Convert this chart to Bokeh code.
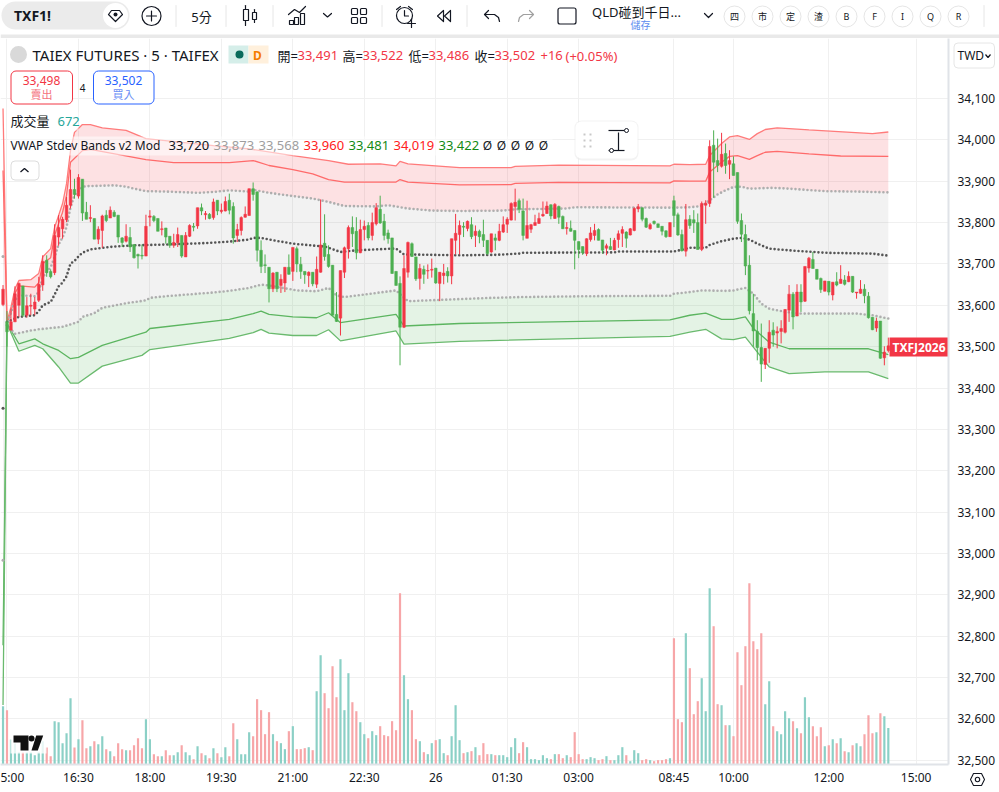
import numpy as np
from bokeh.core.properties import value
from bokeh.embed import file_html
from bokeh.layouts import column
from bokeh.models import BoxAnnotation, FixedTicker, Label, NumeralTickFormatter, Range1d
from bokeh.plotting import figure
from bokeh.resources import INLINE

FONT = '"Noto Sans", "Noto Sans CJK TC"'

RED = "#F23645"
GREEN = "#4CAF50"
TEAL = "#089981"
BLUE = "#2962FF"
INK = "#131722"
GRID = "#F0F0F0"
EDGE = "#E0E3E8"

# 5 minute candles, first one is the last bar of the previous session
opens = [
    33602, 33560, 33540, 33560, 33600, 33647, 33576, 33598, 33591, 33612,
    33649, 33709, 33682, 33679, 33765, 33785, 33807, 33842, 33880, 33864,
    33905, 33825, 33810, 33810, 33760, 33781, 33818, 33811, 33825, 33818,
    33763, 33755, 33764, 33747, 33723, 33721, 33719, 33813, 33815, 33810,
    33783, 33787, 33767, 33745, 33751, 33769, 33717, 33767, 33791, 33792,
    33836, 33819, 33820, 33812, 33854, 33827, 33828, 33854,
    33839, 33769, 33781, 33813, 33817, 33882, 33874, 33733, 33698, 33692,
    33640, 33680, 33648, 33654, 33692, 33682, 33737, 33699, 33682, 33672,
    33680, 33651, 33680, 33750, 33723, 33697, 33578, 33569, 33680, 33737,
    33788, 33779, 33727, 33783, 33793, 33769, 33797, 33832, 33803, 33775,
    33763, 33682, 33653, 33547, 33680, 33749, 33717, 33665, 33687, 33683,
    33685, 33690, 33653, 33672, 33682, 33671, 33757, 33771,
    33791, 33786, 33795, 33769, 33779, 33771, 33757, 33729, 33763, 33757,
    33777, 33796, 33806, 33839, 33853, 33828, 33762, 33784, 33793, 33798,
    33816, 33822, 33843, 33810, 33839, 33815, 33786, 33786, 33781, 33754,
    33742, 33725, 33759, 33769, 33783, 33758, 33738, 33742, 33734, 33759,
    33774, 33777, 33770, 33781, 33833, 33836, 33810, 33785, 33803, 33797,
    33791, 33780, 33766, 33853, 33819, 33771, 33731,
    33808, 33807, 33800, 33735, 33842, 33846, 33987, 33950, 33936, 33967,
    33941, 33942, 33921, 33805, 33771, 33697, 33580, 33537, 33498, 33457,
    33496, 33540, 33533, 33537, 33535, 33588, 33627, 33574, 33632, 33610,
    33690, 33711, 33687, 33665, 33634, 33658, 33625, 33657, 33653, 33661,
    33657, 33670, 33630, 33629, 33639, 33622, 33571, 33545, 33562, 33473, 33491,
]
highs = [
    33649, 33586, 33592, 33646, 33655, 33647, 33620, 33628, 33620, 33669,
    33721, 33721, 33687, 33796, 33818, 33814, 33862, 33928, 33906, 33917,
    33905, 33850, 33842, 33810, 33791, 33819, 33830, 33839, 33830, 33818,
    33765, 33796, 33789, 33747, 33725, 33747, 33819, 33830, 33818, 33810,
    33803, 33787, 33767, 33773, 33788, 33769, 33777, 33796, 33799, 33836,
    33846, 33828, 33823, 33858, 33854, 33846, 33863, 33870,
    33849, 33797, 33815, 33839, 33882, 33897, 33876, 33757, 33723, 33692,
    33680, 33680, 33675, 33692, 33723, 33740, 33742, 33717, 33682, 33682,
    33680, 33718, 33856, 33820, 33745, 33697, 33632, 33684, 33742, 33793,
    33815, 33813, 33807, 33805, 33801, 33824, 33847, 33865, 33821, 33783,
    33763, 33682, 33670, 33721, 33754, 33752, 33717, 33700, 33696, 33699,
    33713, 33690, 33680, 33700, 33692, 33761, 33821, 33805,
    33801, 33805, 33813, 33793, 33783, 33807, 33757, 33773, 33773, 33797,
    33815, 33813, 33849, 33882, 33858, 33858, 33853, 33797, 33819, 33824,
    33851, 33851, 33844, 33847, 33841, 33817, 33801, 33805, 33781, 33754,
    33742, 33762, 33789, 33797, 33786, 33758, 33749, 33763, 33763, 33781,
    33791, 33779, 33787, 33837, 33845, 33836, 33812, 33799, 33805, 33797,
    33791, 33781, 33800, 33865, 33824, 33783, 33845,
    33818, 33830, 33822, 33851, 33854, 33999, 34023, 34003, 34017, 33991,
    33975, 33960, 33921, 33822, 33795, 33721, 33628, 33564, 33556, 33496,
    33564, 33559, 33549, 33564, 33591, 33649, 33632, 33651, 33651, 33694,
    33717, 33729, 33687, 33667, 33659, 33658, 33656, 33680, 33697, 33673,
    33682, 33670, 33632, 33661, 33651, 33632, 33571, 33570, 33562, 33501, 33522,
]
lows = [
    33598, 33500, 33540, 33560, 33572, 33572, 33570, 33576, 33576, 33608,
    33635, 33669, 33665, 33673, 33744, 33761, 33801, 33834, 33858, 33858,
    33804, 33808, 33801, 33760, 33748, 33739, 33801, 33811, 33813, 33751,
    33741, 33752, 33729, 33713, 33689, 33711, 33719, 33791, 33801, 33779,
    33769, 33749, 33739, 33739, 33741, 33715, 33717, 33765, 33779, 33785,
    33818, 33807, 33808, 33807, 33818, 33822, 33827, 33820,
    33749, 33753, 33769, 33812, 33817, 33853, 33706, 33678, 33678, 33607,
    33632, 33632, 33630, 33632, 33674, 33659, 33680, 33664, 33652, 33644,
    33646, 33642, 33679, 33708, 33691, 33576, 33560, 33527, 33666, 33713,
    33741, 33711, 33726, 33757, 33757, 33757, 33793, 33797, 33757, 33749,
    33676, 33648, 33455, 33545, 33667, 33717, 33659, 33638, 33652, 33664,
    33667, 33652, 33610, 33651, 33655, 33651, 33723, 33723,
    33765, 33779, 33760, 33741, 33750, 33741, 33722, 33727, 33733, 33755,
    33775, 33775, 33805, 33805, 33823, 33757, 33762, 33775, 33793, 33797,
    33814, 33821, 33808, 33809, 33797, 33785, 33771, 33778, 33687, 33714,
    33722, 33719, 33754, 33757, 33757, 33725, 33721, 33734, 33733, 33739,
    33741, 33739, 33769, 33779, 33825, 33803, 33787, 33783, 33795, 33788,
    33769, 33763, 33766, 33789, 33768, 33730, 33718,
    33785, 33775, 33735, 33731, 33797, 33838, 33860, 33922, 33933, 33918,
    33905, 33914, 33797, 33753, 33673, 33578, 33500, 33467, 33415, 33446,
    33461, 33500, 33496, 33508, 33532, 33560, 33542, 33574, 33584, 33608,
    33679, 33689, 33663, 33630, 33634, 33624, 33612, 33646, 33653, 33648,
    33656, 33630, 33616, 33628, 33605, 33568, 33540, 33536, 33471, 33455, 33486,
]
closes = [
    33639, 33536, 33560, 33628, 33653, 33576, 33599, 33600, 33608, 33651,
    33706, 33679, 33669, 33769, 33788, 33808, 33842, 33880, 33868, 33909,
    33823, 33808, 33812, 33760, 33784, 33816, 33805, 33830, 33815, 33765,
    33752, 33767, 33741, 33715, 33719, 33719, 33791, 33816, 33805, 33779,
    33785, 33765, 33745, 33752, 33771, 33719, 33769, 33793, 33789, 33836,
    33828, 33822, 33810, 33850, 33828, 33830, 33851, 33830,
    33763, 33783, 33812, 33820, 33882, 33868, 33733, 33694, 33696, 33640,
    33678, 33640, 33663, 33692, 33675, 33740, 33700, 33682, 33674, 33680,
    33652, 33687, 33746, 33718, 33694, 33576, 33561, 33684, 33739, 33788,
    33773, 33727, 33783, 33791, 33763, 33800, 33836, 33799, 33769, 33761,
    33677, 33648, 33547, 33689, 33752, 33718, 33664, 33689, 33675, 33684,
    33687, 33654, 33680, 33678, 33671, 33761, 33774, 33793,
    33789, 33803, 33766, 33779, 33766, 33757, 33725, 33773, 33757, 33779,
    33795, 33808, 33846, 33849, 33832, 33769, 33793, 33795, 33800, 33810,
    33820, 33840, 33816, 33844, 33813, 33785, 33788, 33779, 33757, 33735,
    33727, 33761, 33775, 33781, 33757, 33733, 33744, 33735, 33757, 33773,
    33783, 33762, 33785, 33834, 33838, 33808, 33789, 33795, 33798, 33788,
    33779, 33766, 33800, 33817, 33770, 33732, 33807,
    33793, 33799, 33735, 33846, 33847, 33984, 33946, 33938, 33965, 33938,
    33950, 33914, 33803, 33772, 33695, 33587, 33538, 33498, 33458, 33496,
    33535, 33528, 33537, 33544, 33590, 33627, 33572, 33632, 33608, 33694,
    33714, 33689, 33663, 33638, 33659, 33632, 33656, 33649, 33663, 33651,
    33670, 33632, 33632, 33639, 33623, 33570, 33541, 33562, 33472, 33487, 33502,
]
volumes = [
    1071, 998, 459, 386, 226, 226, 226, 226, 171, 226, 428, 312, 153, 796, 777, 392,
    575, 1218, 312, 465, 814, 300, 337, 428, 373, 520, 282, 245, 153, 392, 282, 263,
    263, 355, 483, 300, 832, 465, 190, 153, 153, 263, 171, 171, 226, 355, 226, 171,
    98, 337, 208, 171, 116, 300, 208, 135, 318, 153, 759, 465, 190, 190, 594, 520,
    1200, 998, 557, 961, 557, 428, 392, 282, 612, 704, 282, 282, 300, 318, 263, 1346,
    2007, 1310, 1034, 1805, 1236, 1934, 998, 1677, 1144, 979, 777, 557, 483, 612, 539, 704,
    539, 520, 796, 630, 3146, 1640, 1200, 998, 465, 428, 226, 190, 392, 447, 465, 208,
    171, 520, 1089, 447, 208, 226, 245, 318, 171, 392, 190, 190, 171, 171, 171, 135,
    318, 483, 208, 410, 318, 98, 98, 80, 171, 116, 98, 190, 190, 116, 171, 135,
    594, 190, 98, 98, 135, 116, 80, 98, 153, 80, 80, 171, 318, 171, 61, 263,
    208, 80, 98, 80, 61, 80, 80, 98, 116, 2319, 832, 777, 2411, 1769, 924, 1163,
    1585, 979, 3237, 2540, 1108, 1089, 722, 722, 520, 2062, 1457, 2173, 3329, 2264, 2118, 2411,
    1108, 1530, 704, 612, 557, 979, 851, 796, 667, 575, 1236, 869, 704, 520, 685, 337,
    355, 465, 392, 483, 245, 226, 355, 392, 337, 557, 906, 575, 594, 942, 887, 672,
]

# VWAP bands, read at the bars where the lines bend
upper3_bars = [-1, 0, 1, 2, 3, 6, 8, 9, 11, 12, 13, 14, 15, 16, 17, 19, 21, 24, 30, 35, 52, 61, 72, 81, 86, 94, 98, 99, 101, 114, 127, 128, 139, 167, 168, 172, 176, 177, 180, 182, 184, 187, 189, 191, 194, 202, 218, 222]
upper3 = [34076, 33560, 33596, 33640, 33660, 33662, 33677, 33717, 33737, 33789, 33817, 33846, 33894, 33974, 34018, 34037, 34037, 34029, 34023, 34003, 33986, 33978, 33962, 33950, 33941, 33942, 33937, 33948, 33942, 33933, 33933, 33936, 33939, 33937, 33941, 33940, 33941, 33962, 33991, 34007, 34010, 34001, 34015, 34025, 34029, 34024, 34015, 34019]
upper2_bars = [-1, 0, 1, 2, 3, 7, 8, 9, 11, 12, 13, 14, 15, 16, 19, 21, 35, 42, 56, 62, 66, 72, 77, 81, 85, 98, 99, 101, 114, 127, 128, 139, 167, 168, 172, 176, 177, 180, 182, 184, 187, 189, 191, 194, 202, 210, 222]
upper2 = [33926, 33556, 33583, 33629, 33647, 33644, 33655, 33701, 33715, 33769, 33798, 33825, 33866, 33946, 33974, 33977, 33952, 33945, 33945, 33950, 33938, 33928, 33918, 33904, 33898, 33898, 33904, 33898, 33891, 33892, 33895, 33897, 33896, 33901, 33900, 33900, 33922, 33946, 33960, 33962, 33953, 33962, 33970, 33972, 33966, 33961, 33960]
upper1_bars = [-1, 0, 2, 3, 7, 8, 9, 11, 12, 13, 14, 15, 16, 17, 19, 20, 27, 30, 32, 35, 40, 48, 52, 56, 61, 62, 66, 72, 77, 81, 85, 93, 96, 101, 107, 114, 125, 128, 141, 143, 168, 172, 175, 177, 179, 181, 183, 185, 187, 193, 197, 206, 214, 222]
upper1 = [33718, 33552, 33612, 33624, 33622, 33632, 33668, 33692, 33717, 33747, 33764, 33789, 33837, 33866, 33886, 33888, 33890, 33887, 33882, 33876, 33875, 33872, 33874, 33878, 33875, 33879, 33872, 33864, 33858, 33850, 33840, 33839, 33842, 33834, 33829, 33828, 33829, 33832, 33834, 33837, 33836, 33837, 33840, 33854, 33868, 33878, 33886, 33887, 33882, 33884, 33882, 33876, 33875, 33873]
vwap_bars = [-1, 0, 3, 7, 8, 9, 11, 12, 13, 14, 15, 16, 17, 18, 19, 21, 24, 27, 32, 40, 49, 56, 61, 62, 64, 66, 72, 80, 81, 84, 88, 97, 98, 100, 114, 123, 129, 130, 153, 154, 168, 172, 176, 177, 180, 183, 185, 187, 189, 192, 197, 206, 218, 222]
vwap = [33351, 33560, 33572, 33576, 33586, 33600, 33608, 33626, 33646, 33655, 33670, 33701, 33707, 33718, 33727, 33735, 33739, 33742, 33745, 33747, 33750, 33754, 33759, 33763, 33763, 33759, 33749, 33742, 33739, 33729, 33733, 33737, 33737, 33723, 33721, 33722, 33725, 33727, 33728, 33730, 33730, 33739, 33739, 33746, 33755, 33761, 33763, 33759, 33749, 33737, 33733, 33727, 33725, 33720]
lower1_bars = [-1, 0, 2, 6, 8, 14, 18, 19, 22, 24, 30, 35, 36, 40, 48, 52, 56, 61, 64, 66, 73, 78, 81, 83, 85, 98, 101, 114, 122, 130, 146, 167, 168, 172, 175, 181, 183, 186, 188, 190, 192, 196, 200, 214, 218, 222]
lower1 = [32984, 33552, 33531, 33539, 33542, 33548, 33560, 33572, 33581, 33594, 33605, 33612, 33618, 33622, 33628, 33631, 33635, 33642, 33650, 33648, 33636, 33634, 33642, 33624, 33620, 33636, 33610, 33615, 33618, 33620, 33622, 33623, 33628, 33632, 33636, 33635, 33636, 33642, 33628, 33604, 33592, 33584, 33580, 33580, 33576, 33568]
lower2_bars = [-1, 0, 3, 7, 9, 13, 16, 18, 24, 35, 36, 56, 62, 64, 66, 72, 78, 81, 84, 98, 100, 114, 167, 172, 176, 180, 183, 186, 188, 192, 197, 206, 217, 222]
lower2 = [32778, 33556, 33507, 33519, 33507, 33491, 33471, 33474, 33503, 33535, 33544, 33566, 33580, 33586, 33578, 33572, 33570, 33582, 33558, 33578, 33550, 33556, 33565, 33576, 33581, 33566, 33566, 33572, 33544, 33511, 33495, 33495, 33495, 33481]
lower3_bars = [-1, 0, 3, 7, 9, 13, 16, 18, 24, 34, 36, 56, 62, 64, 66, 72, 78, 81, 84, 98, 100, 114, 167, 172, 176, 180, 183, 186, 188, 192, 197, 206, 217, 222]
lower3 = [32634, 33556, 33489, 33503, 33495, 33451, 33412, 33412, 33453, 33479, 33493, 33520, 33534, 33542, 33533, 33527, 33527, 33541, 33514, 33538, 33506, 33513, 33525, 33535, 33542, 33519, 33517, 33523, 33499, 33451, 33435, 33439, 33439, 33423]

price_ticks = list(range(32500, 34200, 100))
grid_ticks = [0, 18, 36, 54, 72, 90, 108, 126, 144, 168, 183, 207, 229]
# the session open label is cut by the left edge, so its tick sits a little to the right
time_ticks = [1.2, 18, 36, 54, 72, 90, 108, 126, 144, 168, 183, 207, 229]
time_labels = ["5:00", "16:30", "18:00", "19:30", "21:00", "22:30", "26", "01:30", "03:00", "08:45", "10:00", "12:00", "15:00"]

bars = np.arange(-1, len(opens) - 1)
rising = np.array(closes) >= np.array(opens)
candle_colors = [RED if r else GREEN for r in rising]
# volume pane keeps the default colours, so it is the other way round from the candles
volume_colors = ["#8BD0C6" if r else "#F7A6A8" for r in rising]

FRAME_BOTTOM = 764


def add_text(fig, x, y, text, color=INK, size=13, align="left", style="normal"):
    # x and y are page pixels
    fig.add_layout(Label(x=x, y=FRAME_BOTTOM - y, x_units="screen", y_units="screen", text=text,
                         text_color=color, text_font=FONT, text_font_size=f"{size}px",
                         text_font_style=style, text_align=align, text_baseline="middle"))


def add_box(fig, left, right, top, bottom, fill="white", fill_alpha=1.0, line=None, radius=0, width=1):
    fig.add_layout(BoxAnnotation(left=left, right=right, top=FRAME_BOTTOM - top, bottom=FRAME_BOTTOM - bottom,
                                 left_units="screen", right_units="screen", top_units="screen", bottom_units="screen",
                                 fill_color=fill, fill_alpha=fill_alpha, line_color=line, line_alpha=1.0, line_width=width,
                                 border_radius=radius, level="annotation"))


def small_figure(width, height, left=None, top=None):
    # x and y are the figure's own pixels, top-left origin
    styles = {} if left is None else {"position": "absolute", "left": f"{left}px", "top": f"{top}px"}
    f = figure(width=width, height=height, frame_width=width, frame_height=height, frame_align=False,
               x_range=Range1d(0, width), y_range=Range1d(height, 0),
               x_axis_location=None, y_axis_location=None, toolbar_location=None,
               output_backend="svg", min_border=0, outline_line_color=None, styles=styles)
    f.grid.visible = False
    return f


def build_toolbar():
    t = small_figure(999, 38)

    def stroke(xs, ys, color=INK, width=1.2):
        t.line(xs, ys, line_color=color, line_width=width, line_cap="round", line_join="round")

    def icon_text(x, y, text, color=INK, size=13, style="normal"):
        t.text([x], [y], text=[text], text_color=color, text_font=value(FONT), text_font_size=f"{size}px",
               text_font_style=style, text_align="center", text_baseline="middle")

    t.quad(left=[0], right=[999], top=[34], bottom=[38], fill_color="#E9E9E9", line_color=None)

    # symbol box
    t.quad(left=[1], right=[129], top=[1], bottom=[29], fill_color="#EBEBEB", line_color=None, border_radius=14)
    t.circle([115], [15], radius=12.5, fill_color="white", line_color=None)
    icon_text(32, 15, "TXF1!", size=14, style="bold")
    stroke([108, 111, 119, 122, 115, 108], [14, 10, 10, 14, 21, 14])
    t.circle([115], [14], radius=2, fill_color=INK, line_color=None)

    t.circle([151], [15.5], radius=9.5, fill_color=None, line_color=INK, line_width=1.2)
    stroke([146, 156], [15.5, 15.5])
    stroke([151, 151], [10.5, 20.5])

    for x in [175.5, 225.5, 272.5, 381.5, 466.5, 983.5]:
        stroke([x, x], [5, 26], color="#E6E6E6", width=1)

    icon_text(201, 16, "5分", size=13)

    # candle icon
    stroke([245, 245], [5, 25])
    t.quad(left=[243], right=[248], top=[9], bottom=[20], fill_color="white", line_color=INK, line_width=1.2)
    stroke([254, 254], [9, 22])
    t.quad(left=[252], right=[256], top=[12], bottom=[19], fill_color="white", line_color=INK, line_width=1.2)

    # indicators icon
    stroke([288, 294, 299, 305], [14, 9, 12, 6])
    for left, top in [(289, 20), (294, 17), (300, 13)]:
        t.quad(left=[left], right=[left + 4], top=[top], bottom=[24], fill_color="white", line_color=INK, line_width=1.2)
    stroke([323, 327, 331], [13, 16.5, 13])

    # layout icon
    for left, top in [(351, 8), (360, 8), (351, 17), (360, 17)]:
        t.quad(left=[left], right=[left + 6], top=[top], bottom=[top + 6], fill_color="white",
               line_color=INK, line_width=1.2, border_radius=1)

    # alarm
    t.circle([404], [15], radius=8, fill_color=None, line_color=INK, line_width=1.2)
    stroke([404, 404, 408], [10, 15.5, 15.5])
    stroke([396, 400], [9, 6])
    stroke([408, 412], [6, 9])
    stroke([407, 415], [23, 23])
    stroke([411, 411], [19, 27])

    # replay
    stroke([443, 437, 443, 443], [10, 15.5, 21, 10])
    stroke([450, 444, 450, 450], [10, 15.5, 21, 10])

    # undo, redo
    stroke([488, 484, 488], [10, 14, 18])
    stroke([484, 494, 498, 499], [14, 14, 17, 21])
    stroke([529, 533, 529], [10, 14, 18], color="#A0A0A0")
    stroke([533, 523, 519, 518], [14, 14, 17, 21], color="#A0A0A0")

    t.quad(left=[557.5], right=[575.5], top=[7.5], bottom=[23.5], fill_color="white", line_color=INK,
           line_width=1.2, border_radius=2)
    icon_text(636, 11, "QLD碰到千日...", size=13)
    icon_text(640, 24, "儲存", color="#5B8DEF", size=10)
    stroke([704, 708, 712], [13, 17, 13])

    for x, label in zip([734, 762, 790, 818, 846, 874, 902, 930, 958], ["四", "市", "定", "渣", "B", "F", "I", "Q", "R"]):
        t.circle([x], [16], radius=10.5, fill_color="white", line_color="#E6E6E6", line_width=1)
        icon_text(x, 16, label, size=9)
    return t


def build_currency():
    # currency button over the price scale
    c = small_figure(46, 30, left=951, top=40)
    c.quad(left=[2.5], right=[43], top=[2.5], bottom=[27.5], fill_color="white", line_color="#E6E6E6", border_radius=4)
    c.text([6], [15], text=["TWD"], text_color=INK, text_font=value(FONT), text_font_size="12px",
           text_align="left", text_baseline="middle")
    c.line([34, 36.5, 39], [14, 17, 14], line_color=INK, line_width=1.2)
    return c


def build_settings():
    # settings button under the price scale
    s = small_figure(30, 24, left=962, top=767)
    s.patch([8, 11, 19, 22, 19, 11], [12, 6, 6, 12, 18, 18], fill_color=None, line_color=INK, line_width=1.1)
    s.circle([15], [12], radius=2.2, fill_color=None, line_color=INK, line_width=1.1)
    return s


p = figure(width=999, height=754, x_range=Range1d(-1.637, 237.16), y_range=Range1d(32490, 34245),
           frame_width=948, frame_height=726, frame_align=False,
           toolbar_location=None, output_backend="svg", x_axis_location="below", y_axis_location="right",
           min_border_left=0, min_border_top=0, min_border_right=0, min_border_bottom=0,
           outline_line_color=None)

p.extra_y_ranges["volume"] = Range1d(0, 13335)
p.extra_x_ranges["px"] = Range1d(0, 948)
p.extra_y_ranges["px"] = Range1d(FRAME_BOTTOM, 38)

p.yaxis.ticker = FixedTicker(ticks=price_ticks)
p.yaxis.formatter = NumeralTickFormatter(format="0,0")
p.xaxis.ticker = FixedTicker(ticks=time_ticks)
p.xaxis.major_label_overrides = dict(zip(time_ticks, time_labels))
for axis in [p.xaxis[0], p.yaxis[0]]:
    axis.major_tick_line_color = None
    axis.minor_tick_line_color = None
    axis.axis_line_color = EDGE
    axis.axis_line_width = 2
    axis.major_label_text_font = FONT
    axis.major_label_text_font_size = "12px"
    axis.major_label_text_color = INK
p.yaxis.major_label_standoff = 3
p.xaxis.major_label_standoff = -2
p.xgrid.ticker = FixedTicker(ticks=grid_ticks)
p.ygrid.ticker = FixedTicker(ticks=price_ticks)
p.grid.grid_line_color = GRID

# band fills
p.patch(upper3_bars + upper1_bars[::-1], upper3 + upper1[::-1], fill_color=RED, fill_alpha=0.15, line_color=None)
p.patch(upper1_bars + lower1_bars[::-1], upper1 + lower1[::-1], fill_color="#808080", fill_alpha=0.1, line_color=None)
p.patch(lower1_bars + lower3_bars[::-1], lower1 + lower3[::-1], fill_color=GREEN, fill_alpha=0.15, line_color=None)

# volume pane
p.vbar(bars, width=0.55, top=volumes, bottom=0, y_range_name="volume", fill_color=volume_colors, line_color=None)

# band lines
p.line(upper3_bars, upper3, line_color="#FF7B7B", line_width=1.3)
p.line(upper2_bars, upper2, line_color="#FF6B6B", line_width=1.3)
p.line(lower2_bars, lower2, line_color="#5CB560", line_width=1.3)
p.line(lower3_bars, lower3, line_color="#6ABA6E", line_width=1.3)

# the first value belongs to the previous session and stays on its own
for xs, ys, color in [(upper1_bars, upper1, "#AEAEAE"), (lower1_bars, lower1, "#AEAEAE"), (vwap_bars, vwap, "#555555")]:
    p.line(xs[1:], ys[1:], line_color=color, line_width=2.6, line_dash=[0, 4], line_cap="round")
    p.scatter(xs[:1], ys[:1], size=3, fill_color=color, line_color=None)

# candles
p.segment(bars, highs, bars, lows, line_color=candle_colors, line_width=1)
p.vbar(bars, width=0.66, top=np.maximum(opens, closes), bottom=np.minimum(opens, closes),
       fill_color=candle_colors, line_color=candle_colors, line_width=0.5)

# last price tag
p.quad(left=[889], right=[948], top=[337], bottom=[356], x_range_name="px", y_range_name="px",
       fill_color=RED, line_color=None)
add_text(p, 918.5, 346.5, "TXFJ2026", color="white", size=12, align="center", style="bold")

# TradingView logo
p.quad(left=[10], right=[46], top=[732], bottom=[753], x_range_name="px", y_range_name="px",
       fill_color="white", fill_alpha=0.8, line_color=None)
p.patch([13, 28, 28, 20, 20, 13], [735, 735, 750, 750, 742, 742], x_range_name="px", y_range_name="px",
        fill_color="#111111", line_color=None)
p.patch([35.7, 42.7, 37.3, 31], [735, 735, 750, 750], x_range_name="px", y_range_name="px",
        fill_color="#111111", line_color=None)
p.circle([31], [738], radius=3, x_range_name="px", y_range_name="px", fill_color="#111111", line_color=None)

# header
p.circle([18], [54], radius=8.5, x_range_name="px", y_range_name="px", fill_color="#D9D9D9", line_color=None)
add_text(p, 32, 54.5, "TAIEX FUTURES · 5 · TAIFEX", size=15)
p.quad(left=[228], right=[248], top=[45], bottom=[63], x_range_name="px", y_range_name="px",
       fill_color="#D5EEE9", line_color=None)
p.quad(left=[248], right=[268], top=[45], bottom=[63], x_range_name="px", y_range_name="px",
       fill_color="#FFF0DC", line_color=None)
p.circle([239], [54], radius=4, x_range_name="px", y_range_name="px", fill_color="#0B6B5B", line_color=None)
add_text(p, 257, 54.5, "D", color="#F57C00", size=12, align="center", style="bold")
for x, label, price in [(277, "開=", "33,491"), (342, "高=", "33,522"), (408, "低=", "33,486"), (474, "收=", "33,502")]:
    add_text(p, x, 55, label, size=13)
    add_text(p, x + 20, 55, price, color=RED, size=13)
add_text(p, 540, 55, "+16", color=RED, size=13)
add_text(p, 565, 55, "(+0.05%)", color=RED, size=13)

# bid and ask buttons
add_box(p, 10.5, 72, 70.5, 103.5, line=RED, radius=5)
add_text(p, 41, 80, "33,498", color=RED, size=12, align="center")
add_text(p, 41, 94, "賣出", color="#F4727E", size=11, align="center")
add_text(p, 82, 87, "4", size=10, align="center")
add_box(p, 93, 153.5, 70.5, 103.5, line=BLUE, radius=5)
add_text(p, 123, 80, "33,502", color=BLUE, size=12, align="center")
add_text(p, 123, 94, "買入", color="#6C8FF5", size=11, align="center")

# indicator legend
add_box(p, 8, 78, 112, 130, fill_alpha=0.55)
add_box(p, 8, 552, 136, 155, fill_alpha=0.55)
add_text(p, 10, 120.5, "成交量", size=13)
add_text(p, 57, 120.5, "672", color="#26A69A", size=13)
add_text(p, 10, 144.5, "VWAP Stdev Bands v2 Mod", size=12)
for x, value_text, color in [(168, "33,720", INK), (213, "33,873", "#9E9E9E"), (258, "33,568", "#9E9E9E"),
                             (303, "33,960", "#FF2020"), (348, "33,481", "#128A12"), (393, "34,019", "#FF2020"),
                             (438, "33,422", "#128A12")]:
    add_text(p, x, 144.5, value_text, color=color, size=13)
for x in [487, 501, 515, 529, 543]:
    add_text(p, x, 144.5, "Ø", size=12, align="center")
add_box(p, 10.5, 38.5, 160.5, 179.5, line="#DDDDDD", radius=4)
p.line([20, 24, 28], [171.5, 168, 171.5], x_range_name="px", y_range_name="px", line_color=INK, line_width=1.3, level="overlay")

# floating measure widget
add_box(p, 574, 638, 120, 160, fill="#EAEAEA", fill_alpha=0.55, radius=7)
add_box(p, 575, 637, 121, 158, radius=6)
for x, y in [(584, 134), (590, 134), (584, 140), (590, 140), (584, 146), (590, 146)]:
    p.rect([x], [y], width=2, height=2, width_units="screen", height_units="screen",
           x_range_name="px", y_range_name="px", fill_color="#C8C8C8", line_color=None, level="overlay")
for xs, ys in [([608, 624], [130, 130]), ([608, 624], [150, 150]), ([618, 618], [132, 150])]:
    p.line(xs, ys, x_range_name="px", y_range_name="px", line_color=INK, line_width=1.2, level="overlay")
p.circle([626, 611], [130, 150], radius=2, x_range_name="px", y_range_name="px", fill_color="white",
         line_color=INK, level="overlay")

root = column(build_toolbar(), p, build_currency(), build_settings(), spacing=0)

open("out.html", "w").write(file_html(root, INLINE))
